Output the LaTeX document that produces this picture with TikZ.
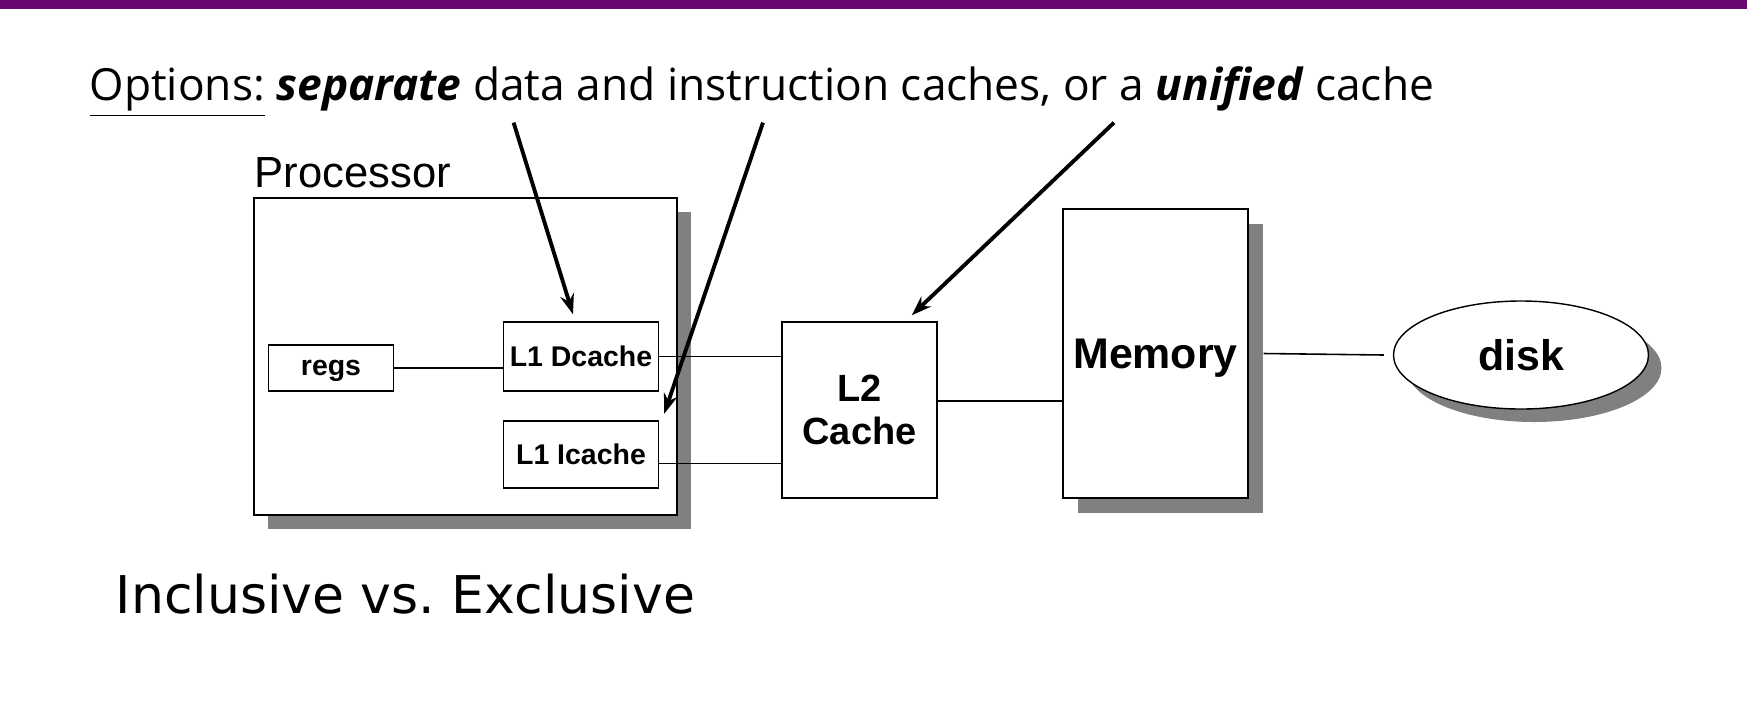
\documentclass[tikz,border=0pt]{standalone}
\usepackage{fontspec}
\setmainfont{Liberation Sans}
\newfontfamily\notefont{Open Sans}
\newfontfamily\slidefont{DejaVu Sans}
\usetikzlibrary{arrows.meta, positioning, shadows, shapes.geometric}
\definecolor{slidepurple}{RGB}{104,8,112}

\begin{document}
\begin{tikzpicture}[x=0.1mm, y=-0.1mm,
        box/.style  = {draw, fill=white, inner sep=0pt, text depth=0pt, font=\bfseries},
        shd/.style  = {drop shadow={shadow xshift=#1, shadow yshift=-#1, fill=black!50, opacity=1}},
        ar/.style   = {-{Stealth[length=2mm, width=1.4mm]}, line width=1.1pt},
        ln/.style   = {line width=0.45pt},
        lbl/.style  = {inner sep=0pt, anchor=base west}
    ]
        \useasboundingbox (0,0) rectangle (1747,706);
        \fill[slidepurple] (0,0) rectangle (1747,9);

        \node[box, shd=1.4mm, minimum width=423*0.1mm, minimum height=317*0.1mm] (proc) at (465.5,356.5) {};
        \node[box, minimum width=125*0.1mm, minimum height=46*0.1mm, font=\bfseries\fontsize{8.1}{10}\selectfont] (regs) at (331,368) {regs};
        \node[box, minimum width=155*0.1mm, minimum height=69*0.1mm, font=\bfseries\fontsize{8.1}{10}\selectfont] (dc) at (581,356.5) {L1 Dcache};
        \node[box, minimum width=155*0.1mm, minimum height=67*0.1mm, font=\bfseries\fontsize{8.1}{10}\selectfont] (ic) at (581,454.5) {L1 Icache};
        \node[box, minimum width=155*0.1mm, minimum height=176*0.1mm, align=center, font=\bfseries\fontsize{10.8}{12.2}\selectfont] (l2) at (859.5,410) {L2\\Cache};
        \node[box, shd=1.5mm, minimum width=185*0.1mm, minimum height=289*0.1mm, font=\bfseries\fontsize{12.2}{14}\selectfont] (mem) at (1155.5,353.5) {Memory};
        \node[box, shd=1.3mm, ellipse, minimum width=255*0.1mm, minimum height=108*0.1mm, font=\bfseries\fontsize{12.2}{14}\selectfont] (disk) at (1521,355) {disk};

        \node[lbl, font=\fontsize{12.4}{14}\selectfont] (proclbl) at (254,187) {Processor};

        \draw[ln] (regs.east) -- (regs.east -| dc.west);
        \draw[ln] (dc.east) -- (dc.east -| l2.west);
        \draw[ln] ([yshift=-0.9mm]ic.east) -- ([yshift=-0.9mm]ic.east -| l2.west);
        \draw[ln] ([yshift=0.9mm]l2.east) -- ([yshift=0.9mm]l2.east -| mem.west);
        \draw[ln] ([xshift=1.5mm]mem.east) -- ([xshift=-0.9mm]disk.west);

        \node[lbl, font=\notefont\fontsize{12.6}{15}\selectfont] (opts) at (89,100)
            {\underline{Options:} \textbf{\textit{separate}} data and instruction caches, or a \textbf{\textit{unified}} cache};
        \coordinate (sepsrc)  at (513.6,122.6);
        \coordinate (instsrc) at (763,122.6);
        \coordinate (unisrc)  at (1114,122.6);

        \draw[ar] (sepsrc)  -- ([xshift=-0.8mm, yshift=0.7mm]dc.north);
        \draw[ar] (instsrc) -- ([xshift=0.5mm, yshift=0.65mm]ic.north east);
        \draw[ar] (unisrc)  -- ([xshift=-2.6mm, yshift=0.6mm]l2.north east);

        \node[lbl, font=\slidefont\fontsize{14.8}{17}\selectfont] (incl) at (115,613) {Inclusive vs.\ Exclusive};
    \end{tikzpicture}
\end{document}
